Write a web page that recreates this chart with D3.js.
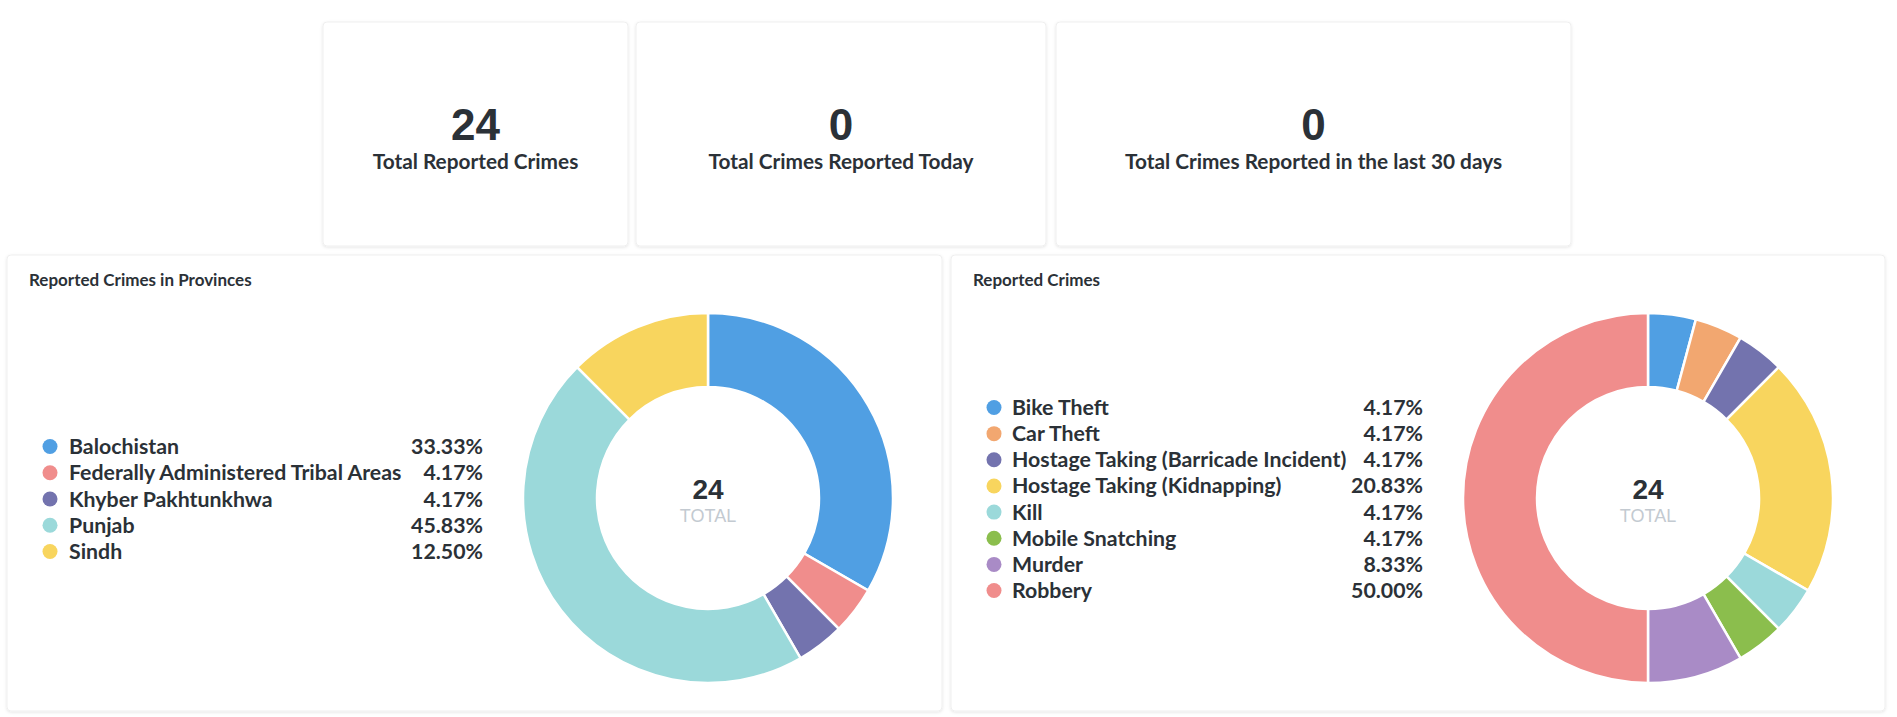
<!DOCTYPE html>
<html>
<head>
<meta charset="utf-8">
<script src="https://cdn.jsdelivr.net/npm/d3@7/dist/d3.min.js"></script>
<style>
html,body{margin:0;padding:0;background:#fff;}
svg{display:block;}
</style>
</head>
<body>
<svg id="chart" width="1897" height="717"></svg>
<script>
// ---- data ----
const statValues = [24, 0, 0];
const statLabels = ["Total Reported Crimes", "Total Crimes Reported Today", "Total Crimes Reported in the last 30 days"];

const provinceNames = ["Balochistan", "Federally Administered Tribal Areas", "Khyber Pakhtunkhwa", "Punjab", "Sindh"];
const provinceCounts = [8, 1, 1, 11, 3];
const provinceColors = ["#509fe3", "#f08d8c", "#7373ae", "#9bd9da", "#f8d55e"];

const crimeNames = ["Bike Theft", "Car Theft", "Hostage Taking (Barricade Incident)", "Hostage Taking (Kidnapping)", "Kill", "Mobile Snatching", "Murder", "Robbery"];
const crimeCounts = [1, 1, 1, 5, 1, 1, 2, 12];
const crimeColors = ["#509fe3", "#f2a770", "#7373ae", "#f8d55e", "#9bd9da", "#8bbe4d", "#a98bc6", "#f08d8c"];

const panelTitles = ["Reported Crimes in Provinces", "Reported Crimes"];
const centerLabel = "TOTAL";

// ---- drawing ----
const svg = d3.select("#chart");
const defs = svg.append("defs");
const f = defs.append("filter").attr("id","shadow").attr("x","-5%").attr("y","-5%").attr("width","110%").attr("height","110%");
f.append("feDropShadow").attr("dx",0).attr("dy",1).attr("stdDeviation",1.5).attr("flood-color","#000").attr("flood-opacity",0.10);

const textColor = "#2b3137";
const lato = "Lato, 'Open Sans', sans-serif";
const arial = "'Liberation Sans', Arial, Helvetica, sans-serif";

// stat cards
const cards = [
  {x:323, w:305},
  {x:636, w:410},
  {x:1056, w:515}
];
const cardTop = 22, cardH = 224;
const cardG = svg.selectAll("g.card").data(statValues).join("g").attr("class","card");
cardG.append("rect")
  .attr("x",(d,i)=>cards[i].x).attr("y",cardTop)
  .attr("width",(d,i)=>cards[i].w).attr("height",cardH)
  .attr("rx",4).attr("fill","#fff").attr("stroke","#efefef").attr("filter","url(#shadow)");
cardG.append("text")
  .attr("x",(d,i)=>cards[i].x+cards[i].w/2).attr("y",140)
  .attr("text-anchor","middle").attr("font-family",arial).attr("font-weight",700)
  .attr("font-size",44).attr("fill",textColor).text(d=>d);
cardG.append("text")
  .attr("x",(d,i)=>cards[i].x+cards[i].w/2).attr("y",169)
  .attr("text-anchor","middle").attr("font-family",lato).attr("font-weight",700)
  .attr("font-size",20.8).attr("fill",textColor).text((d,i)=>statLabels[i]);

// panels
const panels = [
  {x:7, w:935, cx:708, names:provinceNames, counts:provinceCounts, colors:provinceColors,
   legX:50, textX:69, pctX:483, base0:454, step:26.25},
  {x:951, w:934, cx:1648, names:crimeNames, counts:crimeCounts, colors:crimeColors,
   legX:994, textX:1012, pctX:1423, base0:415, step:26.15}
];
const panelTop = 255, panelH = 456, cy = 498;
const outerR = 185, innerR = 111;

panels.forEach((p, pi) => {
  const g = svg.append("g");
  g.append("rect").attr("x",p.x).attr("y",panelTop).attr("width",p.w).attr("height",panelH)
    .attr("rx",4).attr("fill","#fff").attr("stroke","#efefef").attr("filter","url(#shadow)");
  g.append("text").attr("x",p.x+22).attr("y",286)
    .attr("font-family",lato).attr("font-weight",700).attr("font-size",17)
    .attr("fill",textColor).text(panelTitles[pi]);

  const total = d3.sum(p.counts);
  const color = d3.scaleOrdinal().domain(p.names).range(p.colors);
  const pie = d3.pie().sort(null).value(d=>d.v);
  const arc = d3.arc().innerRadius(innerR).outerRadius(outerR);
  const data = p.names.map((n,i)=>({n, v:p.counts[i]}));

  const dg = g.append("g").attr("transform",`translate(${p.cx},${cy})`);
  dg.selectAll("path").data(pie(data)).join("path")
    .attr("d",arc).attr("fill",d=>color(d.data.n))
    .attr("stroke","#fff").attr("stroke-width",2.5);

  dg.append("text").attr("y",1).attr("text-anchor","middle")
    .attr("font-family",arial).attr("font-weight",700).attr("font-size",28)
    .attr("fill",textColor).text(total);
  dg.append("text").attr("y",24).attr("text-anchor","middle")
    .attr("font-family",arial).attr("font-size",18)
    .attr("fill","#c3cad1").text(centerLabel);

  // legend
  const y = d3.scalePoint().domain(p.names).range([p.base0, p.base0 + p.step*(p.names.length-1)]);
  const lg = g.append("g");
  const rows = lg.selectAll("g").data(data).join("g");
  rows.append("circle").attr("cx",p.legX).attr("cy",d=>y(d.n)-7.5).attr("r",7.5)
    .attr("fill",d=>color(d.n));
  rows.append("text").attr("x",p.textX).attr("y",d=>y(d.n))
    .attr("font-family",lato).attr("font-weight",700).attr("font-size",21.3)
    .attr("fill",textColor).text(d=>d.n);
  rows.append("text").attr("x",p.pctX).attr("y",d=>y(d.n)).attr("text-anchor","end")
    .attr("font-family",lato).attr("font-weight",700).attr("font-size",21.3)
    .attr("fill",textColor).text(d=>(d.v/total*100).toFixed(2)+"%");
});
</script>
</body>
</html>
